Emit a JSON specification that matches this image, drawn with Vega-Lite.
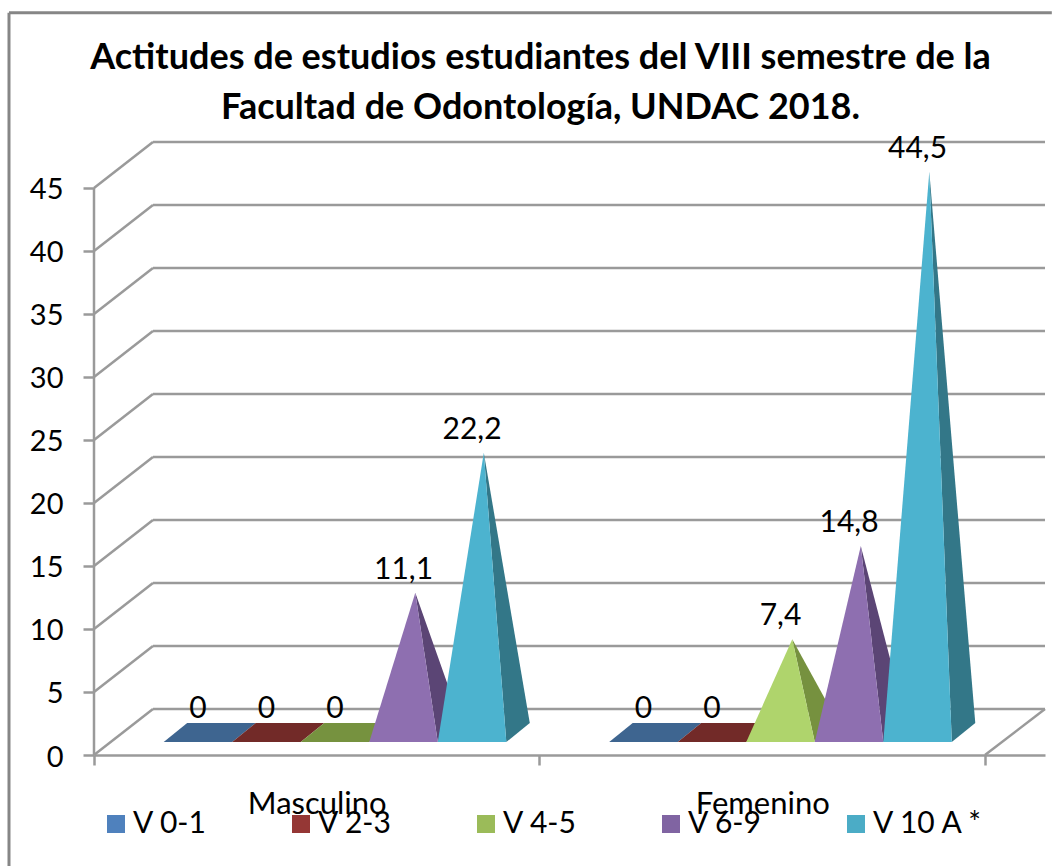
{
"$schema":"https://vega.github.io/schema/vega-lite/v6.json",
"width":951,"height":613,
"autosize":{"type":"none"},
"padding":{"left":94,"top":142,"right":7,"bottom":111},
"background":"white",
"config":{"view":{"stroke":null},"font":"Lato"},
"title":{"text":["Actitudes de estudios estudiantes del VIII semestre de  la","Facultad de Odontología, UNDAC 2018."],"font":"Lato","fontSize":36,"fontWeight":"bold","color":"#000000","anchor":"middle","frame":"group","dx":-29,"lineHeight":50,"offset":-116},
"datasets":{
"rows":[
{"group":"Masculino","series":"V 0-1","value":0},
{"group":"Masculino","series":"V 2-3","value":0},
{"group":"Masculino","series":"V 4-5","value":0},
{"group":"Masculino","series":"V 6-9","value":11.1},
{"group":"Masculino","series":"V 10 A *","value":22.2},
{"group":"Femenino","series":"V 0-1","value":0},
{"group":"Femenino","series":"V 2-3","value":0},
{"group":"Femenino","series":"V 4-5","value":7.4},
{"group":"Femenino","series":"V 6-9","value":14.8},
{"group":"Femenino","series":"V 10 A *","value":44.5}
],
"ticks":[{"v":0},{"v":5},{"v":10},{"v":15},{"v":20},{"v":25},{"v":30},{"v":35},{"v":40},{"v":45}]
},
"layer":[
{"data":{"name":"ticks"},"transform":[{"calculate":"0.1324","as":"bx"},{"calculate":"2.1347","as":"ex"},{"calculate":"datum.v+3.65","as":"by"}],
 "mark":{"type":"rule","color":"#9a9a9a","strokeWidth":2.5},
 "encoding":{"x":{"field":"bx","type":"quantitative","scale":{"domain":[0,2.1347],"nice":false,"zero":false},
   "axis":{"values":[0,0.5,1,1.5,2],"title":null,"grid":false,"domain":true,"domainColor":"#9a9a9a","domainWidth":2.5,"tickColor":"#9a9a9a","tickWidth":2.5,"tickSize":10,"tickOpacity":{"expr":"datum.value%1==0?1:0"},"labelExpr":"datum.value==0.5?'Masculino':datum.value==1.5?'Femenino':''","labelFont":"Lato","labelFontSize":31,"labelColor":"#000000","labelPadding":24,"labelOverlap":false,"labelFlush":false,"labelBound":false,"labelAngle":0,"labelAlign":"center"}},
  "x2":{"field":"ex"},
  "y":{"field":"by","type":"quantitative","scale":{"domain":[0,48.65],"nice":false,"zero":false},
   "axis":{"values":[0,5,10,15,20,25,30,35,40,45],"title":null,"grid":false,"domain":false,"tickColor":"#9a9a9a","tickWidth":2.5,"tickSize":11,"labelFont":"Lato","labelFontSize":29,"labelColor":"#000000","labelPadding":20,"labelBound":false,"labelOffset":2}}}},
{"data":{"name":"ticks"},"transform":[{"calculate":"0","as":"ax"},{"calculate":"0.1324","as":"bx"},{"calculate":"datum.v+3.65","as":"by"}],
 "mark":{"type":"rule","color":"#9a9a9a","strokeWidth":2.5},
 "encoding":{"x":{"field":"ax","type":"quantitative"},"x2":{"field":"bx"},"y":{"field":"v","type":"quantitative"},"y2":{"field":"by"}}},
{"data":{"values":[{"a":0,"b":45}]},
 "mark":{"type":"rule","color":"#9a9a9a","strokeWidth":2.5},
 "encoding":{"x":{"datum":0,"type":"quantitative"},"y":{"field":"a","type":"quantitative"},"y2":{"field":"b"}}},
{"data":{"values":[{"a":2,"b":2.1347,"c":0,"d":3.65}]},
 "mark":{"type":"rule","color":"#9a9a9a","strokeWidth":2.5},
 "encoding":{"x":{"field":"a","type":"quantitative"},"x2":{"field":"b"},"y":{"field":"c","type":"quantitative"},"y2":{"field":"d"}}},
{"data":{"values":[{"a":-0.1908,"b":2.15,"c":58.9}]},
 "mark":{"type":"rule","color":"#868686","strokeWidth":3},
 "encoding":{"x":{"field":"a","type":"quantitative"},"x2":{"field":"b"},"y":{"field":"c","type":"quantitative"}}},
{"data":{"values":[{"a":-0.1908,"c":58.9,"d":-8.9}]},
 "mark":{"type":"rule","color":"#868686","strokeWidth":3},
 "encoding":{"x":{"field":"a","type":"quantitative"},"y":{"field":"c","type":"quantitative"},"y2":{"field":"d"}}},
{"data":{"name":"rows"},
 "transform":[
 {"calculate":"indexof(['Masculino','Femenino'],datum.group)+0.1565+indexof(['V 0-1','V 2-3','V 4-5','V 6-9','V 10 A *'],datum.series)*0.1538","as":"L"},
 {"calculate":"datum.L+0.1538","as":"R"},
 {"calculate":"datum.L+0.0769+0.0264","as":"AX"},
 {"calculate":"datum.value+1.786","as":"AY"},
 {"calculate":"datum.value==0?['base']:['side','front']","as":"face"},
 {"flatten":["face"]},
 {"calculate":"datum.face=='base'?[0,1,2,3]:[0,1,2]","as":"vert"},
 {"flatten":["vert"]},
 {"calculate":"datum.face=='base'?[datum.L,datum.R,datum.R+0.0527,datum.L+0.0527][datum.vert]:datum.face=='side'?[datum.R,datum.R+0.0527,datum.AX][datum.vert]:[datum.L,datum.R,datum.AX][datum.vert]","as":"px"},
 {"calculate":"datum.face=='base'?[1.03,1.03,2.54,2.54][datum.vert]:datum.face=='side'?[1.03,2.54,datum.AY][datum.vert]:[1.03,1.03,datum.AY][datum.vert]","as":"py"},
 {"calculate":"datum.group+'|'+datum.series+'|'+datum.face","as":"key"},
 {"calculate":"datum.series+'|'+datum.face","as":"shade"}
 ],
 "mark":{"type":"line","strokeWidth":0},
 "encoding":{
  "x":{"field":"px","type":"quantitative"},
  "y":{"field":"py","type":"quantitative"},
  "detail":{"field":"key"},
  "order":{"field":"vert","type":"quantitative"},
  "fill":{"field":"shade","type":"nominal","legend":null,"scale":{
   "domain":["V 0-1|base","V 2-3|base","V 4-5|base","V 4-5|front","V 4-5|side","V 6-9|front","V 6-9|side","V 10 A *|front","V 10 A *|side"],
   "range":["#3e6590","#722a28","#76923f","#afd46c","#76913f","#8e6fb0","#5b4575","#4cb3cf","#337788"]}}
 }},
{"data":{"name":"rows"},
 "transform":[
 {"calculate":"indexof(['Masculino','Femenino'],datum.group)+0.1565+0.0769+indexof(['V 0-1','V 2-3','V 4-5','V 6-9','V 10 A *'],datum.series)*0.1538","as":"C"},
 {"calculate":"datum.value+1.786","as":"AY"},
 {"calculate":"replace(format(datum.value,'.1~f'),'.',',')","as":"lab"}
 ],
 "mark":{"type":"text","font":"Lato","fontSize":30,"color":"#000000","dy":-23,"baseline":"middle","align":"center"},
 "encoding":{"x":{"field":"C","type":"quantitative"},"y":{"field":"AY","type":"quantitative"},"text":{"field":"lab"}}},
{"data":{"name":"rows"},
 "mark":{"type":"point","shape":"square","filled":true,"size":0,"opacity":1},
 "encoding":{
  "x":{"datum":1,"type":"quantitative"},
  "y":{"datum":1,"type":"quantitative"},
  "color":{"field":"series","type":"nominal","title":null,
   "scale":{"domain":["V 0-1","V 2-3","V 4-5","V 6-9","V 10 A *"],"range":["#4f81bd","#953735","#9bbb59","#8064a2","#4bacc6"]},
   "legend":{"orient":"none","legendX":7,"legendY":667,"direction":"horizontal","columns":5,"gridAlign":"all","columnPadding":41,"symbolType":"square","symbolSize":324,"symbolStrokeWidth":0,"symbolOffset":0,"symbolOpacity":1,"labelFont":"Lato","labelFontSize":30,"labelColor":"#000000","labelOffset":2,"labelLimit":300}}
 }}
],
"resolve":{"scale":{"fill":"independent"}}
}
